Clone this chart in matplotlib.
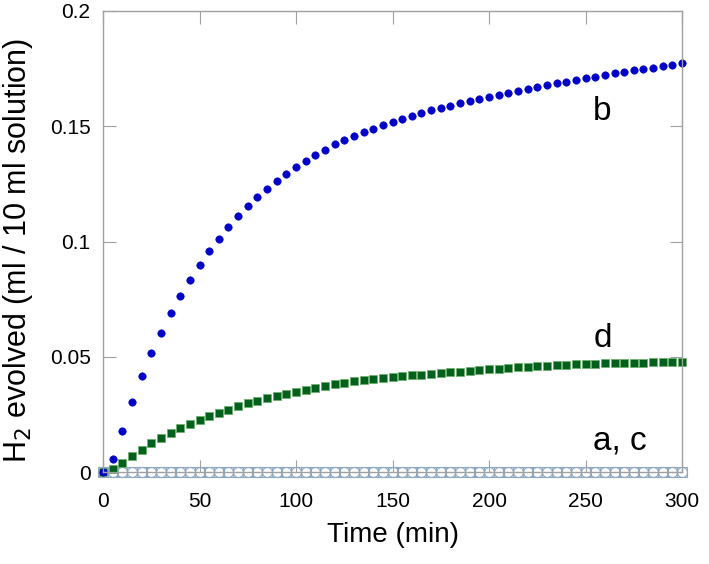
import numpy as np
import matplotlib
matplotlib.use('Agg')
import matplotlib.pyplot as plt

# Sampling times (min), one reading every 5 min
time_min = list(range(0, 305, 5))

# H2 evolved (ml / 10 ml solution)
h2_b = [0.0, 0.0058, 0.0177, 0.0302, 0.0415, 0.0515, 0.0604, 0.0688, 0.0763, 0.0831,
        0.0898, 0.0959, 0.1011, 0.1063, 0.1111, 0.1154, 0.1193, 0.1228, 0.1262, 0.1293,
        0.1323, 0.1349, 0.1375, 0.1398, 0.1422, 0.1440, 0.1458, 0.1475, 0.1490, 0.1507,
        0.1520, 0.1533, 0.1546, 0.1558, 0.1569, 0.1580, 0.1589, 0.1600, 0.1610, 0.1620,
        0.1628, 0.1637, 0.1646, 0.1655, 0.1663, 0.1670, 0.1678, 0.1686, 0.1694, 0.1701,
        0.1708, 0.1715, 0.1722, 0.1729, 0.1736, 0.1742, 0.1748, 0.1754, 0.1760, 0.1767,
        0.1776]

h2_d = [0.0, 0.0012, 0.0039, 0.0071, 0.0097, 0.0124, 0.0148, 0.0169, 0.0190, 0.0210,
        0.0226, 0.0243, 0.0257, 0.0271, 0.0285, 0.0298, 0.0310, 0.0321, 0.0331, 0.0340,
        0.0348, 0.0357, 0.0365, 0.0373, 0.0380, 0.0387, 0.0393, 0.0399, 0.0403, 0.0407,
        0.0411, 0.0415, 0.0419, 0.0423, 0.0427, 0.0430, 0.0433, 0.0436, 0.0439, 0.0442,
        0.0446, 0.0449, 0.0452, 0.0455, 0.0457, 0.0459, 0.0461, 0.0463, 0.0465, 0.0467,
        0.0468, 0.0469, 0.0471, 0.0472, 0.0473, 0.0474, 0.0475, 0.0476, 0.0476, 0.0477,
        0.0478]

# a and c stay on the baseline
h2_a = [0.0, 0.0, 0.0, 0.0, 0.0, 0.0, 0.0, 0.0, 0.0, 0.0,
        0.0, 0.0, 0.0, 0.0, 0.0, 0.0, 0.0, 0.0, 0.0, 0.0,
        0.0, 0.0, 0.0, 0.0, 0.0, 0.0, 0.0, 0.0, 0.0, 0.0,
        0.0, 0.0, 0.0, 0.0, 0.0, 0.0, 0.0, 0.0, 0.0, 0.0,
        0.0, 0.0, 0.0, 0.0, 0.0, 0.0, 0.0, 0.0, 0.0, 0.0,
        0.0, 0.0, 0.0, 0.0, 0.0, 0.0, 0.0, 0.0, 0.0, 0.0,
        0.0]
h2_c = [0.0, 0.0, 0.0, 0.0, 0.0, 0.0, 0.0, 0.0, 0.0, 0.0,
        0.0, 0.0, 0.0, 0.0, 0.0, 0.0, 0.0, 0.0, 0.0, 0.0,
        0.0, 0.0, 0.0, 0.0, 0.0, 0.0, 0.0, 0.0, 0.0, 0.0,
        0.0, 0.0, 0.0, 0.0, 0.0, 0.0, 0.0, 0.0, 0.0, 0.0,
        0.0, 0.0, 0.0, 0.0, 0.0, 0.0, 0.0, 0.0, 0.0, 0.0,
        0.0, 0.0, 0.0, 0.0, 0.0, 0.0, 0.0, 0.0, 0.0, 0.0,
        0.0]

xticks = [0, 50, 100, 150, 200, 250, 300]
yticks = [0, 0.05, 0.1, 0.15, 0.2]
yticklabels = ['0', '0.05', '0.1', '0.15', '0.2']

plt.rcParams['font.family'] = ['Liberation Sans', 'DejaVu Sans']

fig = plt.figure(figsize=(7.09, 5.64), dpi=100)
ax = fig.add_axes([0.1453, 0.163, 0.8167, 0.8175])

edge_ac = '#8fa8c2'
ax.plot(time_min, h2_c, linestyle='none', marker='s', markersize=7.0,
        markerfacecolor='none', markeredgecolor=edge_ac, markeredgewidth=0.8, clip_on=False)
ax.plot(time_min, h2_a, linestyle='none', marker='o', markersize=7.2,
        markerfacecolor='none', markeredgecolor=edge_ac, markeredgewidth=0.8, clip_on=False)
ax.plot(time_min, h2_d, linestyle='none', marker='s', markersize=5.2,
        markerfacecolor='#00601c', markeredgecolor='#6fb06f', markeredgewidth=0.6, clip_on=False)
ax.plot(time_min, h2_b, linestyle='none', marker='o', markersize=5.3,
        markerfacecolor='#0000c8', markeredgecolor='#0000c8', markeredgewidth=0.5, clip_on=False)

# Curve labels
ax.text(254, 0.1565, 'b', fontsize=24, ha='left', va='center')
ax.text(254, 0.0580, 'd', fontsize=24, ha='left', va='center')
ax.text(254, 0.0135, 'a, c', fontsize=24, ha='left', va='center')

ax.set_xlim(0, 300)
ax.set_ylim(0, 0.2)
ax.set_xticks(xticks)
ax.set_yticks(yticks)
ax.set_yticklabels(yticklabels)

for sp in ax.spines.values():
    sp.set_color('#a0a0a0')
    sp.set_linewidth(1.0)
ax.tick_params(direction='in', length=9, width=0.8, color='#a0a0a0',
               top=True, right=True, labelsize=15)
ax.tick_params(axis='x', pad=14)
ax.tick_params(axis='y', pad=9)

ax.set_xlabel('Time (min)', fontsize=20, labelpad=8)
ax.set_ylabel('H$_2$ evolved (ml / 10 ml solution)', fontsize=22)
ax.yaxis.set_label_coords(-0.118, 0.48)

plt.savefig('out.png', dpi=100)
